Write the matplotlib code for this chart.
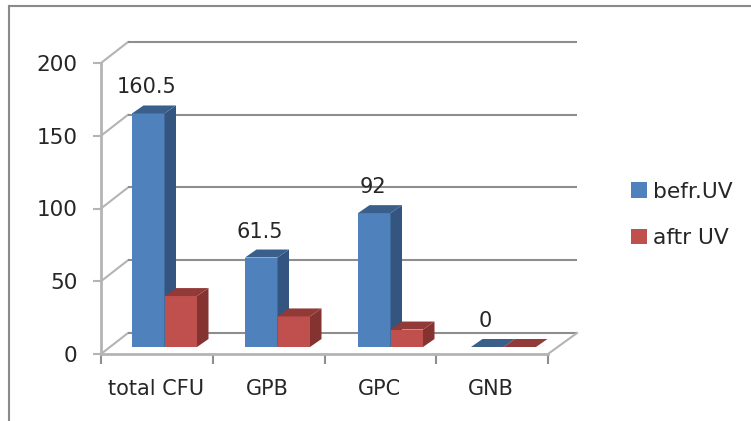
import numpy as np
import matplotlib
matplotlib.use("Agg")
import matplotlib.pyplot as plt
from matplotlib.lines import Line2D
from matplotlib.patches import Patch, Polygon

plt.rcParams["font.family"] = ["DejaVu Sans"]

categories = ["total CFU", "GPB", "GPC", "GNB"]
before_uv = [160.5, 61.5, 92, 0]
after_uv = [35, 21, 12, 0]
y_ticks = [0, 50, 100, 150, 200]
series_names = ["befr.UV", "aftr UV"]

W, H = 751, 421
fig = plt.figure(figsize=(W / 100, H / 100), dpi=100, facecolor="white")

# axes box is the front plane of the 3D-style chart
left, right, top, bottom = 101, 548, 63, 354
ax = fig.add_axes([left / W, 1 - bottom / H, (right - left) / W, (bottom - top) / H])
ax.set_xlim(0, 4)
ax.set_ylim(0, 200)
ax.patch.set_visible(False)

px_x = 4 / (right - left)
px_y = 200 / (bottom - top)

# wall and floor depth
wall_dx = 27 * px_x
wall_dy = 21 * px_y
grid_end = 4 + 29 * px_x

AXIS_GREY = "#b4b4b4"
GRID_GREY = "#8e8e8e"

for v in y_ticks:
    ax.plot([0, wall_dx], [v, v + wall_dy], color=AXIS_GREY, lw=1.5, clip_on=False, zorder=1)
    ax.plot([wall_dx, grid_end], [v + wall_dy, v + wall_dy], color=GRID_GREY, lw=1.5,
            clip_on=False, zorder=1, solid_capstyle="butt")
ax.plot([4, grid_end], [0, wall_dy], color=AXIS_GREY, lw=1.5, clip_on=False, zorder=1)

# bars
bar_w = 32.5 * px_x
bar_gap = 31 * px_x
group_step = 113 * px_x
base = 7 * px_y
depth_x = 11.5 * px_x
depth_y = 8 * px_y

colors = [("#4f81bd", "#34557f", "#3a5f8b"), ("#c0504d", "#843331", "#913a38")]


def draw_bar(x0, value, face, side, cap, z):
    x1 = x0 + bar_w
    y0 = base
    y1 = base + value
    ax.bar(x0, value, width=bar_w, bottom=y0, align="edge", color=face, lw=0, zorder=z)
    ax.add_patch(Polygon([(x1, y0), (x1 + depth_x, y0 + depth_y),
                          (x1 + depth_x, y1 + depth_y), (x1, y1)],
                         closed=True, fc=side, lw=0, zorder=z))
    ax.add_patch(Polygon([(x0, y1), (x0 + depth_x, y1 + depth_y),
                          (x1 + depth_x, y1 + depth_y), (x1, y1)],
                         closed=True, fc=cap, lw=0, zorder=z))


for i in range(len(categories)):
    x0 = i * group_step + bar_gap
    draw_bar(x0, before_uv[i], *colors[0], 3)
    draw_bar(x0 + bar_w, after_uv[i], *colors[1], 4)
    ax.text(x0 + bar_w / 2 - 1.5 * px_x, base + before_uv[i] + 26 * px_y, f"{before_uv[i]:g}",
            ha="center", va="center", fontsize=15, color="#262626", zorder=6)

# axes lines and ticks
for s in ["top", "right"]:
    ax.spines[s].set_visible(False)
for s in ["left", "bottom"]:
    ax.spines[s].set_color(AXIS_GREY)
    ax.spines[s].set_linewidth(2)
ax.set_yticks(y_ticks)
ax.set_xticks(np.arange(5))
ax.set_xticklabels([])
ax.set_xticks(np.arange(4) + 0.49, minor=True)
ax.set_xticklabels(categories, minor=True)
ax.tick_params(axis="y", length=6, width=1.5, color=AXIS_GREY, labelsize=15.5,
               labelcolor="#262626", pad=11)
ax.tick_params(axis="x", which="major", length=7, width=1.5, color=GRID_GREY)
ax.tick_params(axis="x", which="minor", length=0, labelsize=15, labelcolor="#262626", pad=18)

# legend
handles = [Patch(facecolor=colors[0][0], lw=0), Patch(facecolor=colors[1][0], lw=0)]
fig.legend(handles, series_names, loc="center left", bbox_to_anchor=(631 / W, 1 - 215 / H),
           frameon=False, fontsize=15.7, labelcolor="#262626", handlelength=0.72, handleheight=0.72,
           handletextpad=0.27, labelspacing=1.22, borderpad=0, borderaxespad=0)

# chart area border: only top and left edges are inside the frame
border = "#8a8a8a"
fig.add_artist(Line2D([8.5 / W, 8.5 / W], [0, 1 - 6 / H], color=border, lw=1.5))
fig.add_artist(Line2D([8.5 / W, 1], [1 - 6 / H, 1 - 6 / H], color=border, lw=1.5))

fig.savefig("out.png", dpi=100, facecolor="white")
